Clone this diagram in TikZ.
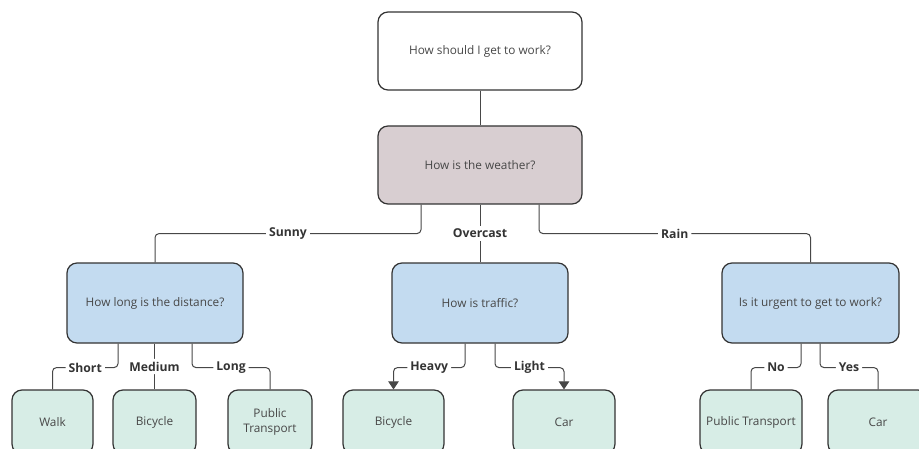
\documentclass[tikz,border=0pt]{standalone}
\usepackage{fontspec}
\setmainfont{Open Sans}
\usepackage{tikz}
\usetikzlibrary{arrows.meta}

\definecolor{ink}{HTML}{333333}
\definecolor{weatherfill}{HTML}{D8CED1}
\definecolor{askfill}{HTML}{C3DBF0}
\definecolor{endfill}{HTML}{D7EDE6}

\begin{document}
\begin{tikzpicture}[x=1pt, y=1pt,
  box/.style = {draw=ink, line width=1.2pt, rounded corners=10pt, inner sep=2pt, align=center, text=ink!90, font=\fontsize{11.8}{15.5}\selectfont},
  ask/.style = {box, fill=askfill, minimum width=176pt, minimum height=80pt},
  leaf/.style = {box, fill=endfill, minimum height=64pt},
  lbl/.style = {fill=white, inner sep=3pt, text=ink, font=\bfseries\fontsize{12.2}{14}\selectfont},
  wire/.style = {draw=ink!90, line width=1pt, rounded corners=4pt},
  arr/.style = {wire, -{Triangle[length=8pt, width=10.5pt]}}]
\useasboundingbox (0,0) rectangle (919,448);
\clip (0,0) rectangle (919,448);

% question boxes
\node[box, fill=white, minimum width=204pt, minimum height=78pt] (start) at (480,397) {How should I get to work?};
\node[box, fill=weatherfill, minimum width=204pt, minimum height=78pt] (weather) at (480,283) {How is the weather?};
\node[ask] (dist) at (155,145) {How long is the distance?};
\node[ask] (traffic) at (480,145) {How is traffic?};
\node[ask, minimum width=177pt] (urgent) at (810.5,145) {Is it urgent to get to work?};

% answers
\node[leaf, minimum width=81pt] (walk) at (52.5,26) {Walk};
\node[leaf, minimum width=83pt] (bike1) at (154.5,26) {Bicycle};
\node[leaf, minimum width=84pt] (pt1) at (270,26) {Public\\Transport};
\node[leaf, minimum width=101pt] (bike2) at (393.5,26) {Bicycle};
\node[leaf, minimum width=102pt] (car1) at (564,26) {Car};
\node[leaf, minimum width=102pt] (pt2) at (751,26) {Public Transport};
\node[leaf, minimum width=100pt] (car2) at (878,26) {Car};

\draw[wire] (start) -- (weather);
\draw[wire] ([xshift=-59pt]weather.south) -- ++(0,-29) -| node[lbl, pos=0.25]{Sunny} (dist.north);
\draw[wire] (weather.south) -- node[lbl]{Overcast} (traffic.north);
\draw[wire] ([xshift=59pt]weather.south) -- ++(0,-29) -| node[lbl, pos=0.25]{Rain} (urgent.north);

\draw[wire] ([xshift=-37pt]dist.south) -- ++(0,-24) -| node[lbl, pos=0.25]{Short} (walk.north);
\draw[wire] (dist.south -| bike1.north) -- node[lbl]{Medium} (bike1.north);
\draw[wire] ([xshift=37pt]dist.south) -- ++(0,-24) -| node[lbl, pos=0.25]{Long} (pt1.north);

\draw[arr] ([xshift=-15pt]traffic.south) -- ++(0,-24) -| node[lbl, pos=0.25]{Heavy} (bike2.north);
\draw[arr] ([xshift=15pt]traffic.south) -- ++(0,-24) -| node[lbl, pos=0.25]{Light} (car1.north);

\draw[wire] ([xshift=-9.5pt]urgent.south) -- ++(0,-24) -| node[lbl, pos=0.25]{No} (pt2.north);
\draw[wire] ([xshift=9.5pt]urgent.south) -- ++(0,-24) -| node[lbl, pos=0.25]{Yes} (car2.north);
\end{tikzpicture}
\end{document}
